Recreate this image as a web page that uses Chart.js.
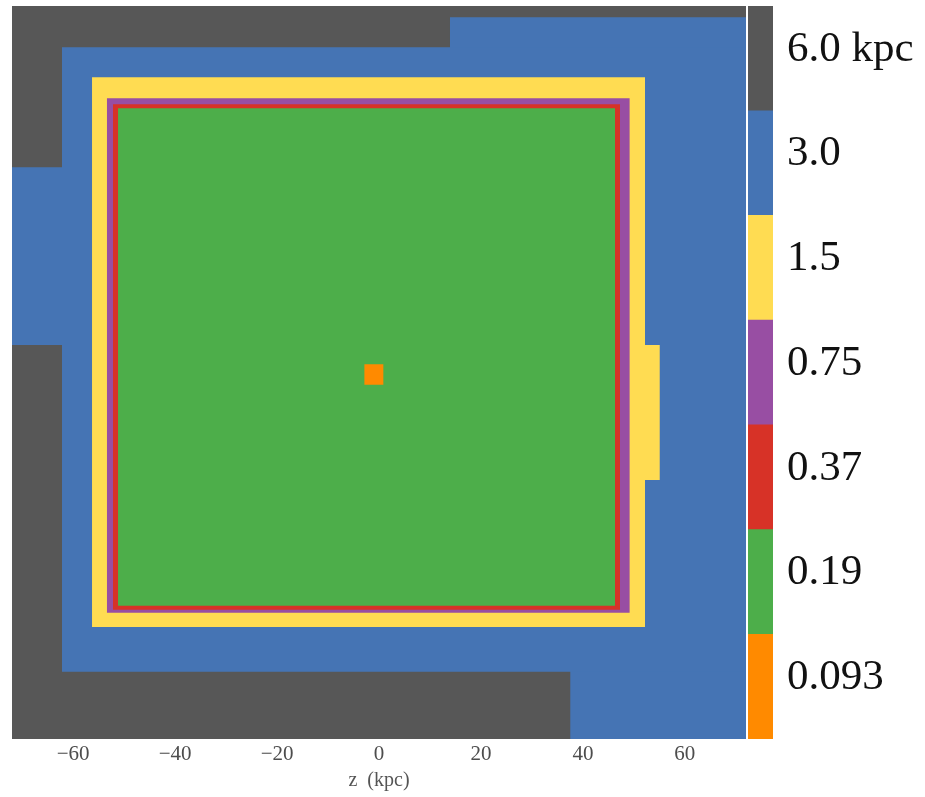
<!DOCTYPE html>
<html>
<head>
<meta charset="utf-8">
<script src="https://cdn.jsdelivr.net/npm/chart.js@4/dist/chart.umd.min.js"></script>
<style>
  html, body { margin: 0; padding: 0; background: #ffffff; }
  #wrap { position: relative; width: 925px; height: 797px; }
  #mapBox { position: absolute; left: 0; top: 0; width: 760px; height: 797px; }
  #barBox { position: absolute; left: 747px; top: 0; width: 178px; height: 797px; }
</style>
</head>
<body>
<div id="wrap">
  <div id="mapBox"><canvas id="map" width="760" height="797"></canvas></div>
  <div id="barBox"><canvas id="bar" width="178" height="797"></canvas></div>
</div>
<script>
// Refinement levels, coarsest first (cell size)
const levelLabels = ['6.0 kpc', '3.0', '1.5', '0.75', '0.37', '0.19', '0.093'];

// Grid patches per level, each as [xMin, xMax, yMin, yMax] in kpc
// (patches of one level may overlap each other)
const grid6p0 = [[-72, 72, -72, 72]];
const grid3p0 = [[-62.2, 72, -58.8, 63.9], [13.9, 72, 60, 69.8], [-72, -60, 5.4, 40.3], [37.5, 72, -72, -55]];
const grid1p5 = [[-56.3, 52.2, -50.0, 58.0], [50, 55.1, -21.1, 5.4]];
const grid0p75 = [[-53.4, 49.2, -47.2, 53.9]];
const grid0p37 = [[-52.2, 47.3, -46.6, 52.7]];
const grid0p19 = [[-51.2, 46.3, -45.8, 51.9]];
const grid0p093 = [[-2.9, 0.9, -2.4, 1.6]];

// Axis ticks (kpc)
const xTicks = [-60, -40, -20, 0, 20, 40, 60];

const levelColors = ['#575757', '#4574b4', '#ffdc52', '#984ea3', '#d73227', '#4dae4a', '#ff8a00'];
const levelGrids = [grid6p0, grid3p0, grid1p5, grid0p75, grid0p37, grid0p19, grid0p093];

// Each patch is a horizontal top edge filled down to its lower bound
const mapDatasets = [];
levelGrids.forEach((patches, lvl) => {
  patches.forEach(([x0, x1, y0, y1]) => {
    mapDatasets.push({
      data: [{ x: x0, y: y1 }, { x: x1, y: y1 }],
      fill: { value: y0 },
      backgroundColor: levelColors[lvl],
      borderColor: levelColors[lvl],
      borderWidth: 0,
      pointRadius: 0,
      pointHoverRadius: 0,
      tension: 0,
      order: levelGrids.length - lvl
    });
  });
});

const serif = "'Liberation Serif', 'DejaVu Serif', serif";

new Chart(document.getElementById('map'), {
  type: 'line',
  data: { datasets: mapDatasets },
  options: {
    responsive: false,
    devicePixelRatio: 1,
    animation: false,
    events: [],
    layout: { padding: { left: 12, top: 6, right: 14, bottom: 0 } },
    plugins: { legend: { display: false }, tooltip: { enabled: false } },
    scales: {
      x: {
        type: 'linear',
        min: -72,
        max: 72,
        grid: { display: false, drawTicks: false, tickLength: 0 },
        border: { display: false },
        afterBuildTicks: (s) => { s.ticks = xTicks.map(v => ({ value: v })); },
        afterFit: (s) => { s.height = 58; },
        ticks: {
          padding: 3,
          color: '#4d4d4d',
          font: { family: serif, size: 21 },
          callback: (v) => String(v).replace('-', '\u2212')
        },
        title: {
          display: true,
          text: 'z  (kpc)',
          color: '#555555',
          font: { family: serif, size: 20 },
          padding: { top: 0, bottom: 4 }
        }
      },
      y: {
        type: 'linear',
        min: -72,
        max: 72,
        display: false
      }
    }
  }
});

// Colour bar: one stacked column, finest level at the bottom
const barLabels = levelLabels.slice().reverse();
const barColors = levelColors.slice().reverse();

new Chart(document.getElementById('bar'), {
  type: 'bar',
  data: {
    labels: [''],
    datasets: barLabels.map((lab, i) => ({
      label: lab,
      data: [1],
      backgroundColor: barColors[i],
      borderWidth: 0,
      barPercentage: 1,
      categoryPercentage: 1
    }))
  },
  options: {
    responsive: false,
    devicePixelRatio: 1,
    animation: false,
    events: [],
    layout: { padding: { left: 1, top: 6, right: 0, bottom: 58 } },
    plugins: { legend: { display: false }, tooltip: { enabled: false } },
    scales: {
      x: { stacked: true, display: false },
      y: {
        stacked: true,
        position: 'right',
        min: 0,
        max: 7,
        grid: { display: false, drawTicks: false, tickLength: 0 },
        border: { display: false },
        afterBuildTicks: (s) => { s.ticks = barLabels.map((_, i) => ({ value: i + 0.5 })); },
        afterFit: (s) => {
          s.width = 152;
          s.paddingTop = 0;
          s.paddingBottom = 0;
        },
        ticks: {
          padding: 14,
          labelOffset: -9,
          color: '#111111',
          font: { family: serif, size: 43 },
          callback: (v) => barLabels[Math.floor(v)]
        }
      }
    }
  }
});
</script>
</body>
</html>
